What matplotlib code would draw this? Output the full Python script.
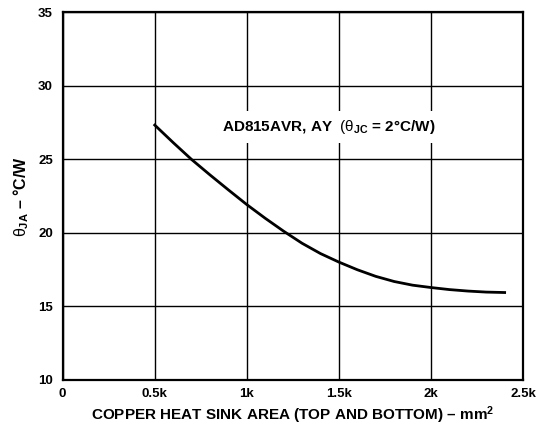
import matplotlib.pyplot as plt

plt.rcParams['font.family'] = ['Liberation Sans', 'DejaVu Sans']
plt.rcParams['mathtext.fontset'] = 'custom'
plt.rcParams['mathtext.rm'] = 'Liberation Sans'
plt.rcParams['mathtext.it'] = 'Liberation Sans'
plt.rcParams['mathtext.bf'] = 'Liberation Sans:bold'

# copper area (mm^2) vs thermal resistance (C/W)
area = [500, 600, 700, 800, 900, 1000, 1100, 1200, 1300, 1400, 1500, 1600,
        1700, 1800, 1900, 2000, 2100, 2200, 2300, 2400]
theta_ja = [27.34, 26.15, 25.0, 23.95, 22.93, 21.93, 21.0, 20.12, 19.3, 18.6,
            18.02, 17.5, 17.05, 16.7, 16.45, 16.29, 16.15, 16.05, 15.98, 15.95]

xticks = [0, 500, 1000, 1500, 2000, 2500]
xlabels = ['0', '0.5k', '1k', '1.5k', '2k', '2.5k']
yticks = [10, 15, 20, 25, 30, 35]

fig = plt.figure(figsize=(5.46, 4.26), dpi=100)
ax = fig.add_axes([0.1148, 0.108, 0.8432, 0.8627])

ax.plot(area, theta_ja, color='black', lw=2.0, zorder=3)

ax.set_xlim(0, 2500)
ax.set_ylim(10, 35)
ax.set_xticks(xticks)
ax.set_xticklabels(xlabels)
ax.set_yticks(yticks)
ax.grid(True, color='black', lw=1.0)
ax.tick_params(length=0, labelsize=9.5)
ax.tick_params(axis='x', pad=6)
ax.tick_params(axis='y', pad=7)
for lab in ax.get_xticklabels() + ax.get_yticklabels():
    lab.set_fontweight('bold')
for s in ax.spines.values():
    s.set_linewidth(1.6)

ax.text(1447, 27.2, r'AD815AVR, AY  $(\theta_{\mathbf{JC}}$ = 2°C/W)',
        ha='center', va='center', fontsize=11, fontweight='bold', zorder=4,
        bbox=dict(facecolor='white', edgecolor='none', pad=5))

ax.set_xlabel(r'COPPER HEAT SINK AREA (TOP AND BOTTOM) – mm$^{\mathbf{2}}$',
              fontsize=11, fontweight='bold', labelpad=3)
ax.set_ylabel(r'$\theta_{\mathbf{JA}}$ – °C/W', fontsize=11.5, fontweight='bold', labelpad=5)

fig.savefig('out.png', dpi=100)
